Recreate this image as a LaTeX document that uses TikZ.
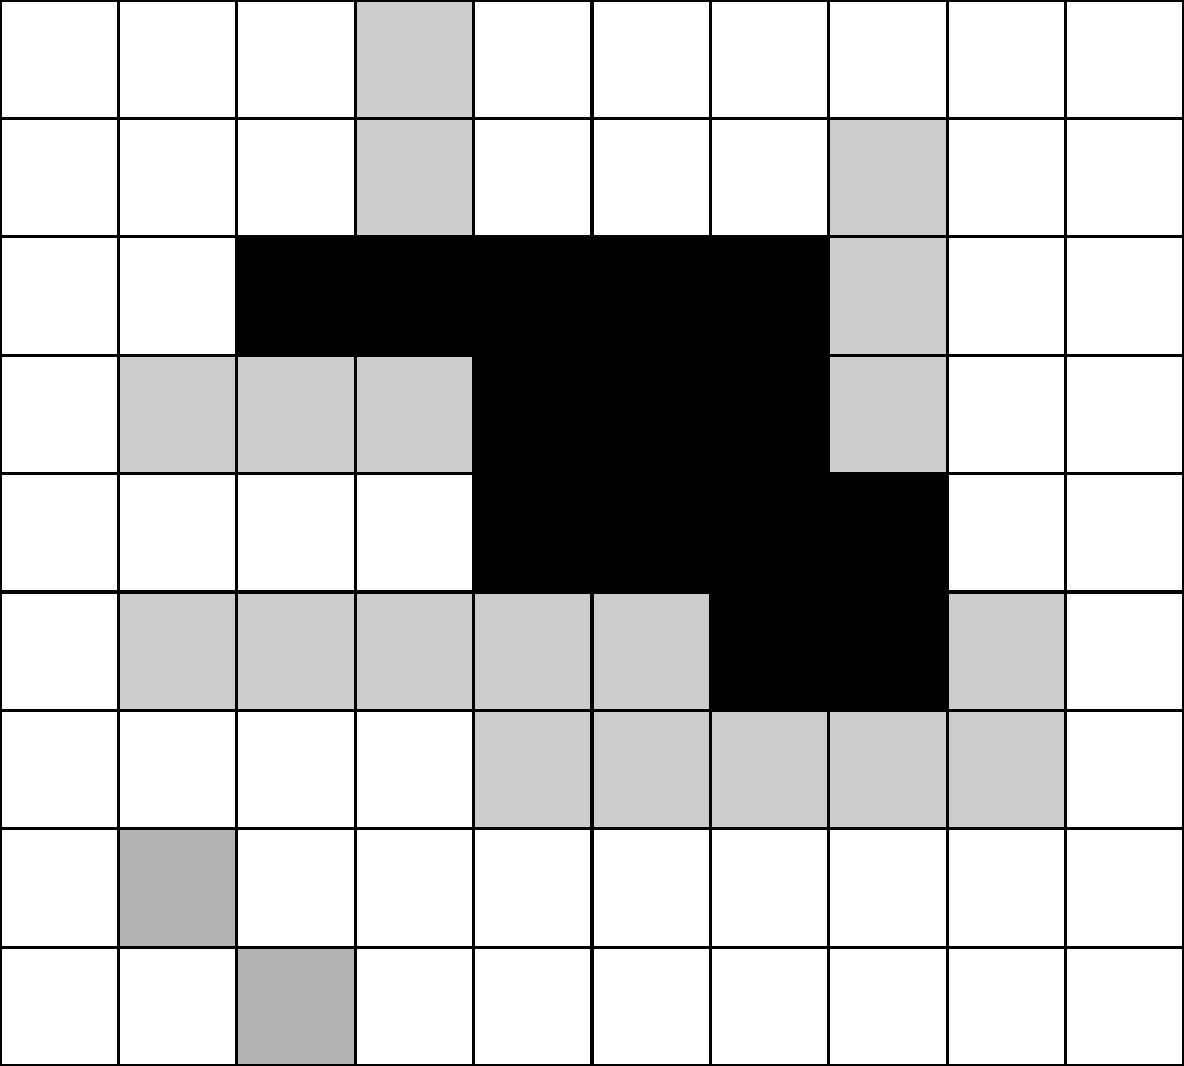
\documentclass[tikz,border=0pt]{standalone}
\definecolor{lightg}{HTML}{CCCCCC}
\definecolor{darkg}{HTML}{B3B3B3}
\tikzset{cellL/.style={fill=lightg},cellD/.style={fill=darkg},cellB/.style={fill=black}}
\begin{document}
\begin{tikzpicture}
\useasboundingbox (0,0) rectangle (10,9);
% light gray cells (col,row from top)
\foreach \c/\r in {3/0,3/1,7/1,7/2,1/3,2/3,3/3,7/3,1/5,2/5,3/5,4/5,5/5,8/5,4/6,5/6,6/6,7/6,8/6}
  \fill[cellL] (\c,9-\r) rectangle ++(1,-1);
% black cells
\foreach \c/\r in {2/2,3/2,4/2,5/2,6/2,4/3,5/3,6/3,4/4,5/4,6/4,7/4,6/5,7/5}
  \fill[cellB] (\c,9-\r) rectangle ++(1,-1);
% darker gray cells
\foreach \c/\r in {1/7,2/8}
  \fill[cellD] (\c,9-\r) rectangle ++(1,-1);
\draw[line width=0.75pt] (0,0) grid (10,9);
\end{tikzpicture}
\end{document}
